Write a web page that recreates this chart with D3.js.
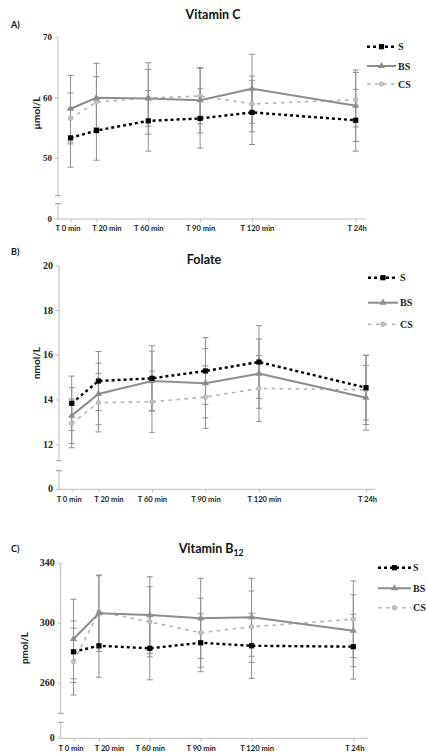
<!DOCTYPE html>
<html>
<head>
<meta charset="utf-8">
<script src="https://cdn.jsdelivr.net/npm/d3@7"></script>
<style>
  body { margin: 0; background: #fff; }
  svg { display: block; }
</style>
</head>
<body>
<div id="container"></div>
<script>
// time points and their slot on the x axis (uneven spacing as in the figure)
const timeLabels = ["T 0 min", "T 20 min", "T 60 min", "T 90 min", "T 120 min", "T 24h"];
const timeSlots = [0, 0.5, 1.5, 2.5, 3.5, 5.5];
const seriesNames = ["S", "BS", "CS"];

// A) Vitamin C, µmol/L
const vitC_S = [53.4, 54.6, 56.2, 56.6, 57.6, 56.3];
const vitC_S_sd = [4.85, 4.9, 5.0, 4.9, 5.3, 5.1];
const vitC_BS = [58.2, 60.0, 59.9, 59.6, 61.5, 58.7];
const vitC_BS_sd = [5.5, 5.7, 5.9, 5.4, 5.7, 5.9];
const vitC_CS = [56.6, 59.3, 60.0, 60.3, 59.0, 59.7];
const vitC_CS_sd = [4.2, 4.2, 4.7, 4.6, 4.6, 4.5];
const vitC_ticks = [50, 60, 70];

// B) Folate, nmol/L
const fol_S = [13.85, 14.85, 14.97, 15.3, 15.7, 14.55];
const fol_S_sd = [1.22, 1.32, 1.46, 1.5, 1.63, 1.45];
const fol_BS = [13.3, 14.27, 14.85, 14.75, 15.18, 14.1];
const fol_BS_sd = [1.25, 1.38, 1.34, 1.55, 1.55, 1.45];
const fol_CS = [12.95, 13.88, 13.92, 14.13, 14.52, 14.45];
const fol_CS_sd = [1.09, 1.31, 1.37, 1.4, 1.48, 1.55];
const fol_ticks = [12, 14, 16, 18, 20];

// C) Vitamin B12, pmol/L
const b12_S = [281, 285, 283.3, 287, 285, 284.4];
const b12_S_sd = [20.5, 21, 21, 19.3, 21.7, 21.6];
const b12_BS = [289.5, 306.7, 305.5, 303.3, 304, 295];
const b12_BS_sd = [26.5, 25.5, 25.5, 26.7, 26, 24];
const b12_CS = [274.5, 307.7, 301, 293.7, 297.7, 302.7];
const b12_CS_sd = [22.3, 24, 23.4, 23, 23.8, 25.5];
const b12_ticks = [260, 300, 340];

const W = 427, H = 755;
// labels under the first ticks sit a little off-centre in the original
const labelShift = [-3, 10, 0, 0, 5, 1];

const svg = d3.select('#container')
    .append('svg')
    .attr('width', W)
    .attr('height', H)
    .attr('viewBox', `0 0 ${W} ${H}`);

const styles = {
    S:  { color: "#000", width: 2.4, dash: "3,3" },
    BS: { color: "#8d8d8d", width: 2, dash: null },
    CS: { color: "#b2b2b2", width: 1.6, dash: "3.5,4.5" }
};
const errColor = "#8f8f8f";

function drawPanel(p) {
    const g = svg.append("g");

    // y axis is broken: the bottom value is labelled "0"
    const y = d3.scaleLinear().domain([p.floor, p.ticks[p.ticks.length - 1]]).range([p.yBottom, p.yTop]);
    const x = d3.scaleLinear().domain([0, 5.5]).range([p.xFirst, p.xLast]);

    // title and panel letter
    const title = g.append("text")
        .attr("x", p.titleX).attr("y", p.titleY)
        .attr("text-anchor", "middle")
        .style("font-family", "Lato, 'Open Sans', sans-serif")
        .style("font-weight", "bold")
        .style("font-size", "12.5px")
        .style("fill", "#111")
        .text(p.title);
    if (p.sub) {
        title.append("tspan").attr("dy", 3).style("font-size", "8.5px").text(p.sub);
    }
    g.append("text")
        .attr("x", 11).attr("y", p.letterY)
        .style("font-family", "Lato, 'Open Sans', sans-serif")
        .style("font-weight", "bold")
        .style("font-size", "9px")
        .style("fill", "#111")
        .text(p.letter);

    // y axis with a gap near the bottom
    const axisColor = "#bdbdbd";
    const breakTop = p.yBottom - p.gap[1], breakBot = p.yBottom - p.gap[0];
    g.append("line").attr("x1", p.axisX).attr("x2", p.axisX)
        .attr("y1", p.yTop).attr("y2", breakTop)
        .style("stroke", axisColor).style("stroke-width", 1);
    g.append("line").attr("x1", p.axisX).attr("x2", p.axisX)
        .attr("y1", breakBot).attr("y2", p.yBottom)
        .style("stroke", axisColor).style("stroke-width", 1);
    [breakTop, breakBot].forEach(v => {
        g.append("line").attr("x1", p.axisX - 3).attr("x2", p.axisX + 3)
            .attr("y1", v).attr("y2", v)
            .style("stroke", "#999").style("stroke-width", 1);
    });

    const tickVals = [p.floor].concat(p.ticks);
    tickVals.forEach((v, i) => {
        g.append("line").attr("x1", p.axisX - 3).attr("x2", p.axisX)
            .attr("y1", y(v)).attr("y2", y(v))
            .style("stroke", axisColor);
        g.append("text")
            .attr("x", p.axisX - 6).attr("y", y(v) + 3)
            .attr("text-anchor", "end")
            .style("font-family", "'Liberation Serif', serif")
            .style("font-weight", "bold")
            .style("font-size", p.tickFont + "px")
            .style("fill", "#222")
            .text(i === 0 ? "0" : v);
    });

    g.append("text")
        .attr("transform", `translate(${p.yLabelX},${p.yLabelY}) rotate(-90)`)
        .attr("text-anchor", "middle")
        .style("font-family", "Lato, 'Open Sans', sans-serif")
        .style("font-weight", "bold")
        .style("font-size", "10px")
        .style("fill", "#222")
        .text(p.unit);

    // x axis
    g.append("line").attr("x1", p.axisX).attr("x2", p.axisEnd)
        .attr("y1", p.yBottom).attr("y2", p.yBottom)
        .style("stroke", axisColor).style("stroke-width", 1);
    const xAxis = d3.axisBottom(x)
        .tickValues(timeSlots)
        .tickFormat((d, i) => timeLabels[i])
        .tickSize(3)
        .tickPadding(4);
    const xg = g.append("g")
        .attr("transform", `translate(0,${p.yBottom})`)
        .call(xAxis);
    xg.select(".domain").remove();
    xg.selectAll(".tick line").style("stroke", axisColor);
    xg.selectAll(".tick text")
        .attr("dx", (d, i) => labelShift[i])
        .style("font-family", "Lato, 'Open Sans', sans-serif")
        .style("font-weight", "bold")
        .style("font-size", "7.6px")
        .style("fill", "#222");

    // series: error bars, lines, markers
    const order = ["CS", "BS", "S"];
    order.forEach(name => {
        const vals = p.data[name], sd = p.sd[name];
        const eg = g.append("g");
        vals.forEach((v, i) => {
            const cx = x(timeSlots[i]);
            eg.append("line").attr("x1", cx).attr("x2", cx)
                .attr("y1", y(v - sd[i])).attr("y2", y(v + sd[i]))
                .style("stroke", errColor).style("stroke-width", 1);
            [v - sd[i], v + sd[i]].forEach(e => {
                eg.append("line").attr("x1", cx - 3).attr("x2", cx + 3)
                    .attr("y1", y(e)).attr("y2", y(e))
                    .style("stroke", errColor).style("stroke-width", 1);
            });
        });
    });

    const line = d3.line().x((d, i) => x(timeSlots[i])).y(d => y(d));
    order.forEach(name => {
        const st = styles[name];
        g.append("path")
            .datum(p.data[name])
            .attr("d", line)
            .style("fill", "none")
            .style("stroke", st.color)
            .style("stroke-width", st.width)
            .style("stroke-dasharray", st.dash);
        p.data[name].forEach((v, i) => drawMarker(g, name, x(timeSlots[i]), y(v)));
    });

    // legend
    seriesNames.forEach((name, i) => {
        const st = styles[name];
        const ly = p.legendY[i];
        g.append("line")
            .attr("x1", p.legendX[0]).attr("x2", p.legendX[1])
            .attr("y1", ly).attr("y2", ly)
            .style("stroke", st.color)
            .style("stroke-width", st.width)
            .style("stroke-dasharray", st.dash);
        drawMarker(g, name, (p.legendX[0] + p.legendX[1]) / 2, ly);
        g.append("text")
            .attr("x", p.legendX[1] + 2).attr("y", ly + 3.5)
            .style("font-family", "'Liberation Serif', serif")
            .style("font-weight", "bold")
            .style("font-size", "10px")
            .style("fill", "#222")
            .text(name);
    });
}

function drawMarker(g, name, cx, cy) {
    if (name === "S") {
        g.append("rect").attr("x", cx - 2.6).attr("y", cy - 2.6)
            .attr("width", 5.2).attr("height", 5.2).style("fill", "#000");
    } else if (name === "BS") {
        g.append("path")
            .attr("d", d3.symbol().type(d3.symbolTriangle).size(22)())
            .attr("transform", `translate(${cx},${cy})`)
            .style("fill", "#8d8d8d");
    } else {
        g.append("circle").attr("cx", cx).attr("cy", cy).attr("r", 2.2)
            .style("fill", "#c4c4c4").style("stroke", "#a8a8a8").style("stroke-width", 0.8);
    }
}

drawPanel({
    title: "Vitamin C", titleX: 213, titleY: 19, letter: "A)", letterY: 28,
    unit: "µmol/L", yLabelX: 40, yLabelY: 113,
    floor: 40, ticks: vitC_ticks, yTop: 37.3, yBottom: 219, gap: [15.3, 23.3],
    axisX: 58, axisEnd: 366, xFirst: 70.5, xLast: 355.7, tickFont: 9,
    data: { S: vitC_S, BS: vitC_BS, CS: vitC_CS },
    sd: { S: vitC_S_sd, BS: vitC_BS_sd, CS: vitC_CS_sd },
    legendX: [367, 396], legendY: [46.7, 66, 84]
});

drawPanel({
    title: "Folate", titleX: 204, titleY: 264, letter: "B)", letterY: 255,
    unit: "nmol/L", yLabelX: 40, yLabelY: 363,
    floor: 10, ticks: fol_ticks, yTop: 266, yBottom: 489.3, gap: [18.6, 28.6],
    axisX: 59, axisEnd: 375, xFirst: 71.7, xLast: 366, tickFont: 10,
    data: { S: fol_S, BS: fol_BS, CS: fol_CS },
    sd: { S: fol_S_sd, BS: fol_BS_sd, CS: fol_CS_sd },
    legendX: [368, 398], legendY: [277.7, 302.7, 324.3]
});

drawPanel({
    title: "Vitamin B", sub: "12", titleX: 211, titleY: 553, letter: "C)", letterY: 552,
    unit: "pmol/L", yLabelX: 28, yLabelY: 648,
    floor: 223.3, ticks: b12_ticks, yTop: 563.3, yBottom: 738.3, gap: [16, 25],
    axisX: 60.7, axisEnd: 368, xFirst: 73.5, xLast: 353.3, tickFont: 10,
    data: { S: b12_S, BS: b12_BS, CS: b12_CS },
    sd: { S: b12_S_sd, BS: b12_BS_sd, CS: b12_CS_sd },
    legendX: [378, 411], legendY: [567.7, 588.3, 607.7]
});
</script>
</body>
</html>
